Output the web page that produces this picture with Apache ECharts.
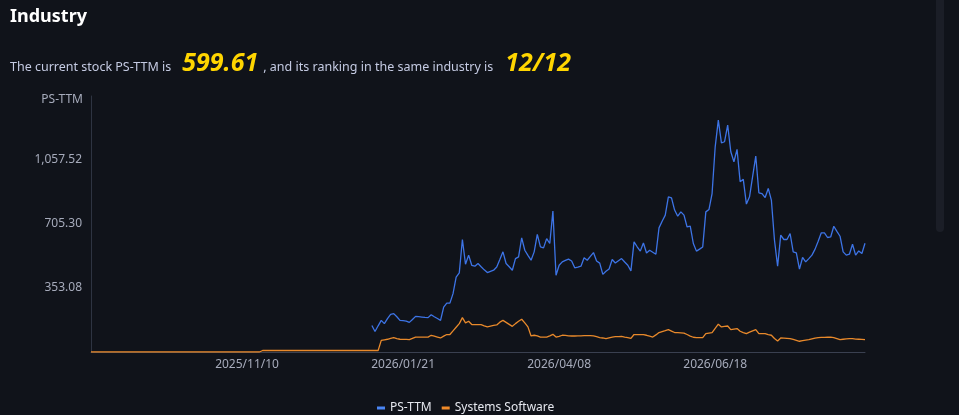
<!DOCTYPE html>
<html><head><meta charset="utf-8">
<script src="https://cdn.jsdelivr.net/npm/echarts@6/dist/echarts.min.js"></script>
<style>
html,body{margin:0;padding:0;background:#10131a;overflow:hidden}
#c{width:959px;height:415px}
#sb{position:absolute;left:936px;top:0;width:8px;height:232px;background:#1b1e27;border-radius:0 0 4px 4px}
</style></head><body><div id="c"></div><div id="sb"></div>
<script>
// Categories: trading days
const startDate = '2025/09/01';
const dayCount = 249;
const holidays = ['2025/11/27','2025/12/25','2026/02/16','2026/02/17','2026/02/18','2026/04/03','2026/04/06','2026/05/25'];
const tickLabels = ['2025/11/10','2026/01/21','2026/04/08','2026/06/18'];
// Y axis ticks
const yMin = 0.86, yMax = 1409.74, yInterval = 352.22;
// Header values
const currentValue = '599.61';
const ranking = '12/12';
// PS-TTM series (starts later, ends at last date)
const psTtm = [
147,114,145,175,157,185,208,212,195,175,
173,171,164,180,197,195,193,191,190,206,
195,185,175,248,270,270,322,413,436,620,
484,534,478,473,488,470,453,438,445,451,
469,510,552,488,470,451,515,524,629,561,
533,506,552,648,579,574,625,598,776,423,
478,497,505,512,502,464,468,473,519,506,
527,548,502,490,428,445,458,510,491,503,
515,496,478,447,607,580,556,601,546,561,
550,539,684,720,754,855,849,782,748,772,
754,689,693,598,556,567,579,772,785,873,
1130,1277,1152,1158,1250,1103,1048,1116,938,951,
815,855,967,1079,877,873,851,901,837,616,
473,644,620,620,653,552,546,457,521,497,
515,534,567,610,657,657,631,634,693,665,
638,552,534,539,594,534,557,543,599.61
];
// Systems Software industry series
const industry = [
0.86,0.86,0.86,0.86,0.86,0.86,0.86,0.86,0.86,0.86,
0.86,0.86,0.86,0.86,0.86,0.86,0.86,0.86,0.86,0.86,
0.86,0.86,0.86,0.86,0.86,0.86,0.86,0.86,0.86,0.86,
0.86,0.86,0.86,0.86,0.86,0.86,0.86,0.86,0.86,0.86,
0.86,0.86,0.86,0.86,0.86,0.86,0.86,0.86,0.86,0.86,
0.86,0.86,0.86,0.86,0.86,
9,9,9,9,9,9,9,9,9,9,
9,9,9,9,9,9,9,9,9,9,
9,9,9,9,9,9,9,9,9,9,
9,9,9,9,9,9,9,
9,65,68,71,76,80,74,71,70,70,
69,76,83,83,83,83,83,93,88,83,
78,88,97,97,117,137,157,190,161,170,
152,152,152,152,145,139,143,147,150,165,
175,164,153,142,157,170,181,161,139,89,
93,90,83,83,83,90,98,83,87,93,
92,90,89,89,90,90,91,91,91,90,
85,80,78,75,79,83,85,86,87,83,
80,76,97,97,97,97,93,88,83,95,
108,113,118,124,116,108,107,106,105,97,
88,82,80,80,80,102,105,108,131,154,
139,142,144,124,127,130,115,108,102,110,
117,124,102,102,102,97,93,75,61,78,
77,76,75,70,65,60,63,66,69,73,
77,80,81,81,82,83,80,75,69,71,
73,75,74,72,71,70,69
];

function fmt(d){
  const m = String(d.getUTCMonth()+1).padStart(2,'0');
  const day = String(d.getUTCDate()).padStart(2,'0');
  return d.getUTCFullYear()+'/'+m+'/'+day;
}
const dates = [];
{
  const p = startDate.split('/').map(Number);
  let d = new Date(Date.UTC(p[0], p[1]-1, p[2]));
  while (dates.length < dayCount) {
    const wd = d.getUTCDay();
    const s = fmt(d);
    if (wd !== 0 && wd !== 6 && holidays.indexOf(s) < 0) dates.push(s);
    d = new Date(d.getTime() + 86400000);
  }
}
const psData = new Array(dates.length - psTtm.length).fill(null).concat(psTtm);
const indData = new Array(Math.max(0, dates.length - industry.length)).fill(null).concat(industry);

const chart = echarts.init(document.getElementById('c'), null, {renderer:'canvas'});
const FONT = 'Noto Sans, Open Sans, sans-serif';
chart.setOption({
  backgroundColor: '#10131a',
  textStyle: {fontFamily: FONT},
  title: [
    {text: 'Industry', left: 5, top: 3,
     textStyle: {color: '#ffffff', fontSize: 18, fontWeight: 'bold', fontFamily: FONT}},
    {text: '{a|The current stock PS-TTM is}{b|' + currentValue + '}{c|, and its ranking in the same industry is}{d|' + ranking + '}',
     left: 5, top: 46,
     textStyle: {
       fontFamily: FONT, fontWeight: 'normal',
       rich: {
         a: {color: '#c5cbe3', fontSize: 12.5, fontWeight: 'normal', fontFamily: FONT, verticalAlign: 'bottom', padding:[0,0,2,0]},
         b: {color: '#ffd500', fontSize: 25, fontWeight: 'bold', fontStyle: 'italic', fontFamily: FONT, padding: [0, 5, 0, 11], verticalAlign: 'bottom'},
         c: {color: '#c5cbe3', fontSize: 12.5, fontWeight: 'normal', fontFamily: FONT, verticalAlign: 'bottom', padding:[0,0,2,0]},
         d: {color: '#ffd500', fontSize: 25, fontWeight: 'bold', fontStyle: 'italic', fontFamily: FONT, padding: [0, 0, 0, 12], verticalAlign: 'bottom'}
       }
     }}
  ],
  legend: {
    left: 372, top: 397,
    icon: 'rect', itemWidth: 8, itemHeight: 3, itemGap: 10,
    textStyle: {color: '#e6e8ef', fontSize: 12, fontFamily: FONT},
    data: ['PS-TTM', 'Systems Software']
  },
  grid: {left: 91, right: 94, top: 96, bottom: 63, containLabel: false},
  xAxis: {
    type: 'category', boundaryGap: false, data: dates,
    axisLine: {lineStyle: {color: '#3a4050', width: 1}},
    axisTick: {show: false},
    axisLabel: {
      color: '#a6abbb', fontSize: 12, fontFamily: FONT, margin: 7,
      interval: function(i, v){ return tickLabels.indexOf(v) >= 0; }
    },
    splitLine: {show: false}
  },
  yAxis: {
    type: 'value', min: yMin, max: yMax, interval: yInterval,
    name: 'PS-TTM', nameLocation: 'end', nameGap: -4,
    nameTextStyle: {color: '#a6abbb', fontSize: 12, fontFamily: FONT, align: 'right', verticalAlign: 'middle', padding: [0, 8, 0, 0]},
    axisLine: {show: true, lineStyle: {color: '#2e3442', width: 1}},
    axisTick: {show: false},
    splitLine: {show: false},
    axisLabel: {
      color: '#a6abbb', fontSize: 12, fontFamily: FONT, margin: 9,
      showMinLabel: false, showMaxLabel: false,
      formatter: function(v){ return v.toLocaleString('en-US', {minimumFractionDigits: 2, maximumFractionDigits: 2}); }
    }
  },
  series: [
    {name: 'PS-TTM', type: 'line', data: psData, symbol: 'none', showSymbol: false,
     lineStyle: {color: '#3d74e6', width: 1.3}, itemStyle: {color: '#4a86f5'}, connectNulls: false},
    {name: 'Systems Software', type: 'line', data: indData, symbol: 'none', showSymbol: false,
     lineStyle: {color: '#e8892b', width: 1.3}, itemStyle: {color: '#f08a28'}}
  ],
  animation: false
});
</script>
</body></html>
